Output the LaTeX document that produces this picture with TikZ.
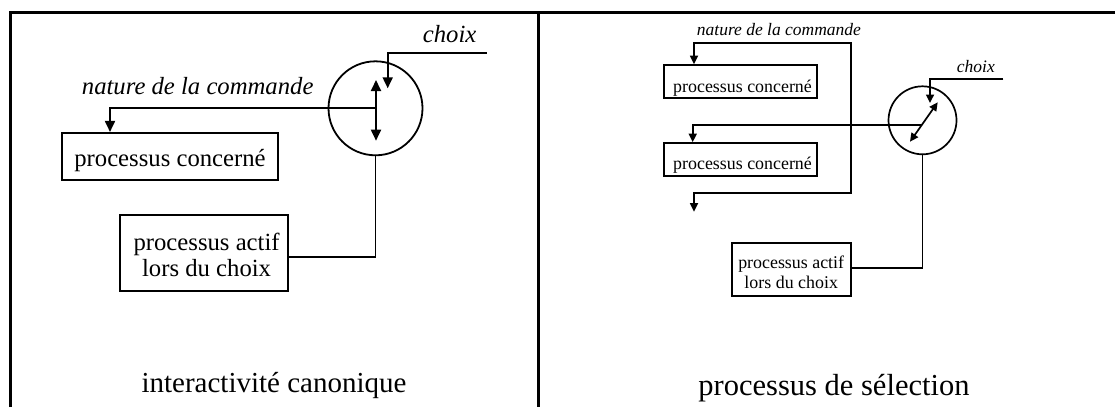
\documentclass[tikz,border=0pt]{standalone}
\usepackage{fontspec}
\setmainfont{Liberation Serif}
\usetikzlibrary{arrows.meta}
\begin{document}
\begin{tikzpicture}[x=1pt,y=-1pt,
  frame/.style={line width=3pt},
  ln/.style={line width=1.8pt},
  lns/.style={line width=1.7pt},
  boxL/.style={draw,rectangle,inner sep=0pt,line width=2.1pt},
  boxR/.style={draw,rectangle,inner sep=0pt,line width=2.3pt},
  sw/.style={draw,circle,inner sep=0pt},
  tL/.style={inner sep=0pt,font=\fontsize{24.7}{26}\selectfont},
  iL/.style={inner sep=0pt,font=\fontsize{24.7}{26}\selectfont\itshape},
  tR/.style={inner sep=0pt,font=\fontsize{17.9}{20}\selectfont},
  iR/.style={inner sep=0pt,font=\fontsize{17.5}{20}\selectfont\itshape},
  ttl/.style={inner sep=0pt,font=\fontsize{29}{32}\selectfont},
  ttr/.style={inner sep=0pt,font=\fontsize{30.5}{33}\selectfont},
  tipL/.tip={Triangle[length=11pt,width=10pt]},
  tipR/.tip={Triangle[length=8.5pt,width=8pt]}
]
\useasboundingbox (0,0) rectangle (1115,407);
% frames
\draw[frame] (10,407) -- (10,12.7) -- (1115,12.7);
\draw[frame] (538.5,12.7) -- (538.5,407);

% ---------- left panel ----------
\node[sw,ln,minimum size=94pt] (sw1) at (375.5,108.3) {};
\node[boxL,minimum width=216.3pt,minimum height=47pt] (pc1) at (169.9,156.5) {};
\node[tL,anchor=base] (pc1t) at (170,166) {processus concerné};
\node[boxL,minimum width=168.3pt,minimum height=76pt] (pa1) at (204.15,253) {};
\node[tL,anchor=base] (pa1ta) at (206.6,250) {processus actif};
\node[tL,anchor=base] (pa1tb) at (206.6,276) {lors du choix};
\node[iL,anchor=base west] (ch1) at (422.7,42.7) {choix};
\node[iL,anchor=base west] (na1) at (81.7,94.3) {nature de la commande};
\node[ttl,anchor=base] (ti1) at (274,392.7) {interactivité canonique};

\coordinate (ch1in) at (486.7,53.3);
\coordinate (ch1tip) at (387.7,88.3);
\draw[ln,-tipL] (ch1in) -| (ch1tip);
\coordinate (sw1up) at (376,80);
\coordinate (sw1dn) at (376,140.7);
\draw[ln,tipL-tipL] (sw1up) -- (sw1dn);
\coordinate (sw1piv) at (376,108.3);
\draw[ln,-tipL] (sw1piv) -| ([xshift=-59.9pt]pc1.north);
\draw[ln] ([yshift=-3.7pt]pa1.east) -| (sw1.south);

% ---------- right panel ----------
\node[sw,lns,minimum size=68pt] (sw2) at (922.5,120.3) {};
\node[boxR,minimum width=152.7pt,minimum height=32.4pt] (pc2) at (740.35,81.5) {};
\node[tR,anchor=base west] (pc2t) at (673,92.7) {processus concerné};
\node[boxR,minimum width=152.7pt,minimum height=32.4pt] (pc3) at (740.35,159.5) {};
\node[tR,anchor=base west] (pc3t) at (673,169.3) {processus concerné};
\node[boxR,minimum width=119.2pt,minimum height=53.3pt] (pa2) at (791.4,269.35) {};
\node[tR,anchor=base] (pa2ta) at (791.2,268.5) {processus actif};
\node[tR,anchor=base] (pa2tb) at (791.2,288) {lors du choix};
\node[iR,anchor=base west] (ch2) at (956.7,72.3) {choix};
\node[iR,anchor=base west] (na2) at (696.7,35) {nature de la commande};
\node[ttr,anchor=base] (ti2) at (834,395) {processus de sélection};

\coordinate (ch2in) at (1003.3,79.3);
\coordinate (ch2tip) at (930,103);
\draw[lns,-tipR] (ch2in) -| (ch2tip);
\coordinate (sw2a) at (910,141.7);
\coordinate (sw2b) at (937.7,102.3);
\draw[lns,tipR-tipR] (sw2a) -- (sw2b);
\coordinate (sw2piv) at (921.7,125);
\draw[lns,-tipR] (sw2piv) -| ([xshift=-47.65pt]pc3.north);
\coordinate (busT) at (850.7,43.3);
\coordinate (busB) at (850.7,192.7);
\coordinate (outL) at (694,192.7);
\coordinate (outTip) at (694,211.7);
\draw[lns,tipR-tipR] ([xshift=-46.35pt]pc2.north) |- (busT) -- (busB) -- (outL) -- (outTip);
\draw[lns] ([yshift=1.35pt]pa2.east) -| (sw2.south);
\end{tikzpicture}
\end{document}
